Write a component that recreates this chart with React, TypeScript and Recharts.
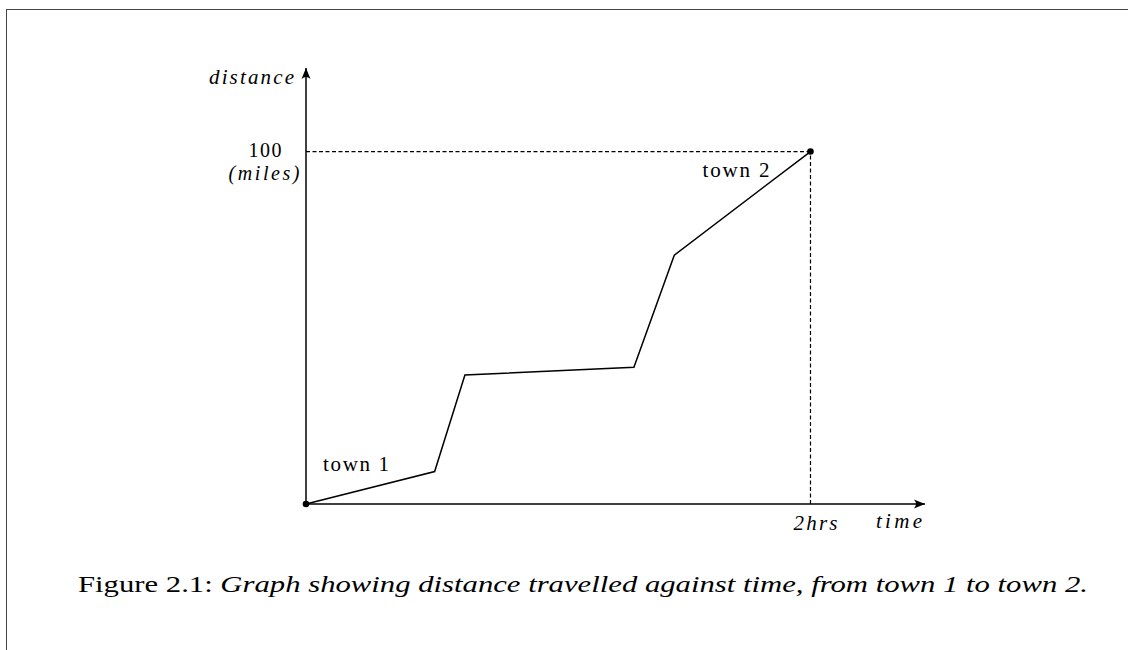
import React from 'react';
import { LineChart, Line, XAxis, YAxis, ReferenceLine, ReferenceDot } from 'recharts';

// values
const timeHrs = [0, 0.51, 0.63, 1.3, 1.46, 2];
const distanceMiles = [0, 9.2, 36.6, 38.8, 70.6, 100];
const xTicks = [2];
const xTickLabels = ['2hrs'];
const yTicks = [100];
const yTickLabels = ['100', '(miles)'];
const townLabels = ['town 1', 'town 2'];

// axes run a little past the last value, ending in arrows
const X_MAX = 2.454;
const Y_MAX = 123.7;

const data = timeHrs.map((t, i) => ({ time: t, distance: distanceMiles[i] }));

const serif = '"Liberation Serif", serif';

const XTick = (props: any) => {
  const { x, y, payload } = props;
  const i = xTicks.indexOf(payload.value);
  return (
    <text x={x + 5} y={y + 18} textAnchor="middle" fontFamily={serif} fontStyle="italic" fontSize={21} fill="#000" textLength={44} lengthAdjust="spacing">
      {xTickLabels[i]}
    </text>
  );
};

const YTick = (props: any) => {
  const { x, y } = props;
  return (
    <g>
      <text x={x - 33} y={y + 5} textAnchor="middle" fontFamily={serif} fontSize={20} fill="#000" textLength={33}>
        {yTickLabels[0]}
      </text>
      <text x={x - 34} y={y + 28.5} textAnchor="middle" fontFamily={serif} fontStyle="italic" fontSize={20} fill="#000" textLength={71} lengthAdjust="spacing">
        {yTickLabels[1]}
      </text>
    </g>
  );
};

const ArrowRight = (p: any) => (
  <path d={`M${p.cx},${p.cy} L${p.cx - 11},${p.cy - 4.5} Q${p.cx - 7},${p.cy} ${p.cx - 11},${p.cy + 4.5} Z`} fill="#000" />
);

const ArrowUp = (p: any) => (
  <path d={`M${p.cx},${p.cy} L${p.cx - 4.5},${p.cy + 11} Q${p.cx},${p.cy + 7} ${p.cx + 4.5},${p.cy + 11} Z`} fill="#000" />
);

const EndDot = (props: any) => {
  const { cx, cy, index } = props;
  if (index !== 0 && index !== data.length - 1) return <g key={`d${index}`} />;
  return <circle key={`d${index}`} cx={cx} cy={cy} r={3.3} fill="#000" />;
};

const label = (txt: string, dx: number, dy: number, anchor: string, italic: boolean, len: number) =>
  (p: any) => (
    <text x={p.cx + dx} y={p.cy + dy} textAnchor={anchor} fontFamily={serif} fontStyle={italic ? 'italic' : 'normal'} fontSize={21} fill="#000" textLength={len} lengthAdjust="spacing">
      {txt}
    </text>
  );

export default function App() {
  return (
    <div style={{ position: 'fixed', left: 0, top: 0, width: 1128, height: 650, overflow: 'hidden', background: '#fff' }}>
      <div style={{ position: 'absolute', left: 6, top: 9, width: 2000, height: 2000, borderTop: '1.6px solid #444', borderLeft: '1.6px solid #444' }} />
      <div style={{ position: 'absolute', left: 0, top: 0 }}>
        <LineChart width={1128} height={650} data={data} margin={{ top: 68, right: 203, bottom: 106, left: 226 }}>
          <XAxis dataKey="time" type="number" domain={[0, X_MAX]} ticks={xTicks} tickLine={false} tick={<XTick />} height={40} axisLine={{ stroke: '#000', strokeWidth: 1.5 }} />
          <YAxis type="number" domain={[0, Y_MAX]} ticks={yTicks} tickLine={false} tick={<YTick />} width={80} axisLine={{ stroke: '#000', strokeWidth: 1.5 }} />
          <ReferenceLine segment={[{ x: 0, y: 100 }, { x: 2, y: 100 }]} stroke="#000" strokeWidth={1.2} strokeDasharray="4 2.5" />
          <ReferenceLine segment={[{ x: 2, y: 0 }, { x: 2, y: 100 }]} stroke="#000" strokeWidth={1.2} strokeDasharray="4 2.5" />
          <Line dataKey="distance" stroke="#000" strokeWidth={1.5} dot={<EndDot />} isAnimationActive={false} />
          <ReferenceDot x={X_MAX} y={0} ifOverflow="visible" shape={ArrowRight} />
          <ReferenceDot x={0} y={Y_MAX} ifOverflow="visible" shape={ArrowUp} />
          <ReferenceDot x={X_MAX} y={0} ifOverflow="visible" shape={label('time', -3, 24, 'end', true, 46)} />
          <ReferenceDot x={0} y={Y_MAX} ifOverflow="visible" shape={label('distance', -12, 16, 'end', true, 85)} />
          <ReferenceDot x={0} y={0} ifOverflow="visible" shape={label(townLabels[0], 17, -33, 'start', false, 66)} />
          <ReferenceDot x={2} y={100} ifOverflow="visible" shape={label(townLabels[1], -41, 25.5, 'end', false, 67)} />
        </LineChart>
      </div>
      <svg width={1128} height={60} style={{ position: 'absolute', left: 0, top: 560 }}>
        <text x={78} y={32} fontFamily={serif} fontSize={23} fill="#000" textLength={1010} lengthAdjust="spacingAndGlyphs">
          <tspan>Figure 2.1: </tspan>
          <tspan fontStyle="italic">Graph showing distance travelled against time, from town 1 to town 2.</tspan>
        </text>
      </svg>
    </div>
  );
}
